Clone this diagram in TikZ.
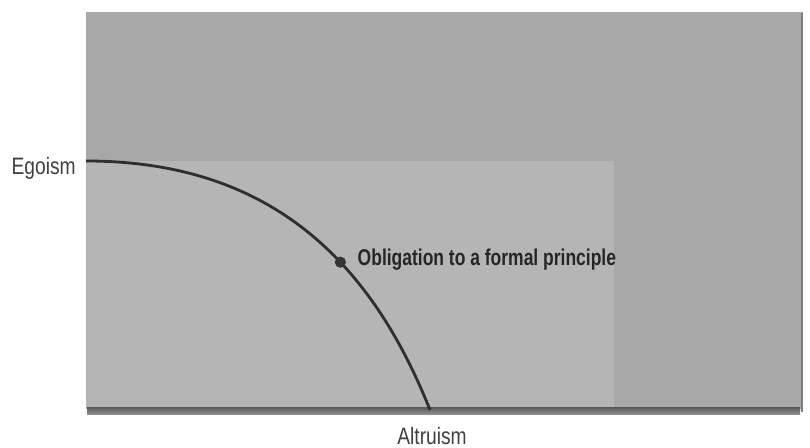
\documentclass[tikz,border=0pt]{standalone}
\usepackage{fontspec}
\usepackage{xcolor}
\usetikzlibrary{positioning}
\newfontfamily\figfont[FakeStretch=0.81]{Liberation Sans}
\newfontfamily\figboldfont[FakeStretch=0.765]{Liberation Sans Bold}
\definecolor{backgray}{RGB}{168,168,168}
\definecolor{insetgray}{RGB}{181,181,181}
\definecolor{edgedark}{RGB}{95,95,95}
\definecolor{edgelight}{RGB}{150,150,150}
\definecolor{rimgray}{RGB}{125,125,125}

\begin{document}
\begin{tikzpicture}[
  lbl/.style={font=\figfont\fontsize{13.5}{15}\selectfont,text=black!75,inner sep=0pt},
  boldlbl/.style={lbl,font=\figboldfont\fontsize{13}{15}\selectfont,text=black!85},
  dot/.style={circle,fill=black!80,inner sep=0pt,minimum size=6.4pt},
  curve/.style={line width=1.6pt,black!82}]
  \useasboundingbox (0,0) rectangle (16.2,8.96);
  % back panel and lighter inset
  \fill[backgray] (1.72,0.78) rectangle (16.06,8.72);
  \fill[insetgray] (1.72,0.78) rectangle (12.28,5.74);
  % bottom edge and right rim
  \shade[top color=edgedark,bottom color=edgelight] (1.74,0.66) rectangle (16.0,0.80);
  \draw[rimgray,line width=1pt] (16.04,0.72) -- (16.04,8.70);
  % ends of the curve
  \coordinate (ego) at (1.72,5.74);
  \coordinate (alt) at (8.60,0.76);
  % trade-off curve with marked point
  \draw[curve] (ego) .. controls +(3.6,0) and +(-1.22,3.07) .. (alt)
    node[dot,pos=0.62] (obl) {};
  % labels
  \node[lbl,anchor=base east] (egolbl) at (1.52,5.46) {Egoism};
  \node[lbl,anchor=base west] (altlbl) at (7.94,0.06) {Altruism};
  \node[boldlbl,anchor=base west] (obllbl) at ([xshift=0.2cm,yshift=-0.06cm]obl.east)
    {Obligation to a formal principle};
\end{tikzpicture}
\end{document}
